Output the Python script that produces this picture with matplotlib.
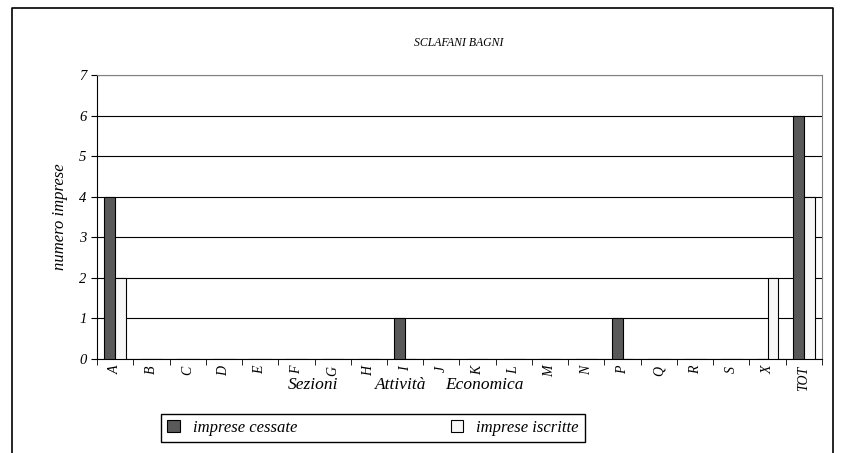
import numpy as np
import matplotlib.pyplot as plt
from matplotlib.lines import Line2D

plt.rcParams['font.family'] = ['Liberation Serif', 'DejaVu Serif']
plt.rcParams['font.style'] = 'italic'

# dati
sezioni = ["A", "B", "C", "D", "E", "F", "G", "H", "I", "J", "K", "L",
           "M", "N", "P", "Q", "R", "S", "X", "TOT"]
cessate = [4, 0, 0, 0, 0, 0, 0, 0, 1, 0, 0, 0, 0, 0, 1, 0, 0, 0, 0, 6]
iscritte = [2, 0, 0, 0, 0, 0, 0, 0, 0, 0, 0, 0, 0, 0, 0, 0, 0, 0, 2, 4]
titolo_x = ["Sezioni", "Attività", "Economica"]

fig = plt.figure(figsize=(8.41, 4.53), dpi=100)
ax = fig.add_axes([97/841, 94/453, 725/841, 284/453])

x = np.arange(len(sezioni))
w = 0.3
ax.bar(x - w/2, cessate, w, color='#595959', edgecolor='black', linewidth=0.8,
       label='imprese cessate', zorder=3)
ax.bar(x + w/2, iscritte, w, color='#f7f7f7', edgecolor='black', linewidth=0.8,
       label='imprese iscritte', zorder=3)

ax.set_xlim(-0.5, len(sezioni) - 0.5)
ax.set_ylim(0, 7)
ax.set_yticks(range(8))
ax.yaxis.grid(True, color='black', linewidth=0.8, zorder=0)
ax.tick_params(axis='y', direction='out', length=4, labelsize=10.5)

ax.set_xticks(x)
ax.set_xticklabels(sezioni, rotation=90, fontsize=10)
ax.tick_params(axis='x', length=0, pad=5)
ax.set_xticks(np.arange(len(sezioni) + 1) - 0.5, minor=True)
ax.tick_params(axis='x', which='minor', direction='out', length=4)

ax.spines['top'].set_color('#808080')
ax.spines['right'].set_color('#808080')

ax.set_ylabel('numero imprese', fontsize=12, labelpad=8)
for parola, px in zip(titolo_x, [288, 375, 445]):
    fig.text(px/841, 1 - 385/453, parola, fontsize=12.5, ha='left', va='center')
fig.text(459/841, 1 - 43/453, 'SCLAFANI BAGNI', fontsize=8.5,
         ha='center', va='center')

# cornice esterna
fig.add_artist(Line2D([12/841, 12/841, 833/841, 833/841], [0, 1 - 8/453, 1 - 8/453, 0],
                      transform=fig.transFigure, color='black', linewidth=1.2))

fig.legend(loc='center', bbox_to_anchor=(373/841, 1 - 428/453), ncol=2,
           fontsize=12, frameon=True, fancybox=False, edgecolor='black',
           columnspacing=9.2, handlelength=0.75, handleheight=0.75,
           borderpad=0.35, borderaxespad=0, framealpha=1)

fig.savefig('out.png', dpi=100)
